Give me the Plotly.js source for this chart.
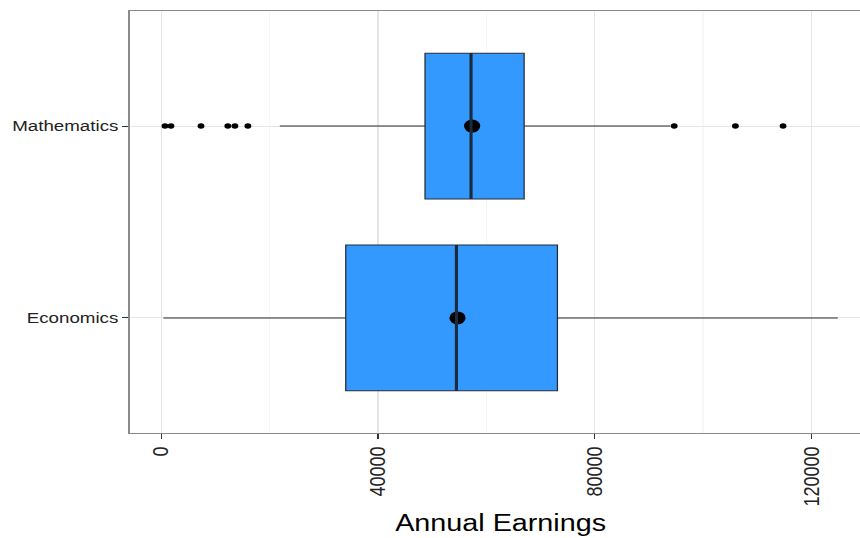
<!DOCTYPE html>
<html>
<head>
<meta charset="utf-8">
<script src="https://cdn.plot.ly/plotly-3.0.1.min.js"></script>
<style>
  html, body { margin: 0; padding: 0; background: #ffffff; overflow: hidden; width: 860px; height: 538px; }
  #wrap { width: 720px; height: 538px; transform: scaleX(1.25); transform-origin: 0 0; }
</style>
</head>
<body>
<div id="wrap"><div id="chart" style="width:720px;height:538px;"></div></div>
<script>
// ---- data ----
const categories = ['Economics', 'Mathematics'];
const q1Values = [34070, 48700];
const medianValues = [54500, 57200];
const q3Values = [73150, 67000];
const lowerFence = [400, 21900];
const upperFence = [124900, 94000];
const meanValues = [54700, 57400];
const mathOutliers = [700, 1800, 7350, 12300, 13600, 16000, 94700, 106000, 114800];
const xTickValues = [0, 40000, 80000, 120000];
const xTickLabels = ['0', '40000', '80000', '120000'];

const FONT = 'Liberation Sans, Arial, Helvetica, sans-serif';
const BOX_WIDTH = 0.76;

const traces = [
  {
    type: 'box',
    orientation: 'h',
    y: categories,
    q1: q1Values,
    median: medianValues,
    q3: q3Values,
    lowerfence: lowerFence,
    upperfence: upperFence,
    width: BOX_WIDTH,
    whiskerwidth: 0,
    boxpoints: false,
    fillcolor: '#3399ff',
    line: { color: '#262c33', width: 1 },
    hoverinfo: 'skip',
    showlegend: false
  },
  {
    type: 'scatter',
    mode: 'markers',
    x: mathOutliers,
    y: mathOutliers.map(() => 'Mathematics'),
    marker: { color: '#000000', size: 5.5 },
    hoverinfo: 'skip',
    showlegend: false
  },
  {
    type: 'scatter',
    mode: 'markers',
    x: meanValues,
    y: categories,
    marker: { color: '#000000', size: 13 },
    hoverinfo: 'skip',
    showlegend: false
  }
];

const medianShapes = medianValues.map((m, i) => ({
  type: 'line', xref: 'x', yref: 'y',
  x0: m, x1: m, y0: i - BOX_WIDTH / 2, y1: i + BOX_WIDTH / 2,
  line: { color: '#1b2b3d', width: 2.5 },
  layer: 'above'
}));

const layout = {
  width: 720,
  height: 538,
  margin: { l: 104, r: 23, t: 11, b: 105 },
  paper_bgcolor: '#ffffff',
  plot_bgcolor: '#ffffff',
  font: { family: FONT, color: '#222222' },
  showlegend: false,
  shapes: medianShapes,
  xaxis: {
    range: [-5760, 131080],
    tickmode: 'array',
    tickvals: xTickValues,
    ticktext: xTickLabels,
    tickangle: -90,
    tickfont: { family: FONT, size: 18, color: '#222222' },
    ticks: 'outside',
    ticklen: 5,
    tickcolor: '#333333',
    showgrid: true,
    gridcolor: '#e6e6e6',
    gridwidth: 1,
    minor: { dtick: 20000, tick0: 0, showgrid: true, gridcolor: '#f7f7f7', gridwidth: 1, ticks: '' },
    zeroline: false,
    showline: true,
    mirror: true,
    linecolor: '#8a8a8a',
    linewidth: 1.3,
    automargin: false,
    title: { text: 'Annual Earnings', font: { family: FONT, size: 23, color: '#000000' }, standoff: 9 }
  },
  yaxis: {
    type: 'category',
    categoryorder: 'array',
    categoryarray: categories,
    range: [-0.6, 1.6],
    tickfont: { family: FONT, size: 15, color: '#222222' },
    ticks: 'outside',
    ticklen: 5,
    tickcolor: '#333333',
    showgrid: true,
    gridcolor: '#e6e6e6',
    gridwidth: 1,
    zeroline: false,
    showline: true,
    mirror: true,
    linecolor: '#8a8a8a',
    linewidth: 1.3,
    automargin: false
  }
};

Plotly.newPlot('chart', traces, layout, { displayModeBar: false, staticPlot: true });
</script>
</body>
</html>
